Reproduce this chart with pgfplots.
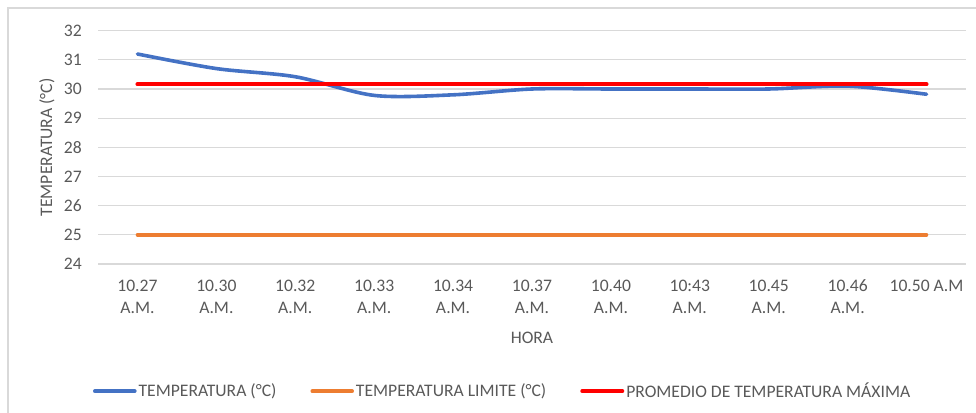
\documentclass[border=0pt]{standalone}
\usepackage{pgfplots}
\pgfplotsset{compat=1.18}
\usepackage{fontspec}
\setmainfont{Carlito}
\definecolor{tblue}{HTML}{4472C4}
\definecolor{torange}{HTML}{ED7D31}
\definecolor{tred}{HTML}{FF0000}
\definecolor{tgrid}{HTML}{D9D9D9}
\definecolor{ttext}{HTML}{595959}
\newcommand\cfont{\fontsize{13.2}{16.5}\selectfont}
\begin{document}
\cfont
\begin{tikzpicture}
\useasboundingbox (0,0) rectangle (732pt,309.75pt);
\draw[tgrid, line width=1pt] (6pt,-20pt) -- (6pt,303.75pt) -- (760pt,303.75pt);
\begin{axis}[
  at={(73.5pt,111.75pt)}, anchor=south west,
  scale only axis, width=651pt, height=175pt,
  xmin=-0.5, xmax=10.5, ymin=24, ymax=32,
  ytick={24,25,...,32},
  xtick={0,...,10},
  xticklabels={{10.27\\A.M.},{10.30\\A.M.},{10.32\\A.M.},{10.33\\A.M.},{10.34\\A.M.},{10.37\\A.M.},{10.40\\A.M.},{10:43\\A.M.},{10.45\\A.M.},{10.46\\A.M.},{10.50 A.M\\\mbox{}}},
  axis line style={draw=none},
  major tick length=0pt,
  ymajorgrids, grid style={tgrid, line width=0.9pt},
  tick label style={font=\cfont, text=ttext},
  /pgf/number format/assume math mode=true,
  yticklabel style={anchor=east, inner sep=0pt, xshift=-12pt},
  xticklabel style={anchor=base, align=center, inner sep=0pt, yshift=-37.5pt},
  xlabel={HORA}, ylabel={TEMPERATURA (°C)},
  label style={font=\cfont, text=ttext},
  xlabel style={at={(axis description cs:0.5,-0.317)}, anchor=center},
  ylabel style={at={(axis description cs:-0.0588,0.5)}, anchor=center, rotate=0},
  legend columns=3,
  legend style={at={(axis description cs:0.4654,-0.545)}, anchor=center, draw=none, fill=none,
    font=\cfont, text=ttext,
    nodes={inner sep=0.5pt},
    /tikz/every odd column/.append style={column sep=1pt},
    /tikz/every even column/.append style={column sep=25pt},
    inner sep=0pt},
  legend image code/.code={\draw[#1, line cap=round] (0pt,0pt) -- (30pt,0pt);},
  legend cell align=left,
]
\addplot[tblue, line width=2.7pt, line cap=round, smooth, tension=0.5] coordinates {
 (0,31.2) (1,30.7) (2,30.42) (3,29.78) (4,29.8) (5,30.0) (6,30.0) (7,30.0) (8,30.0) (9,30.1) (10,29.82)};
\addlegendentry{TEMPERATURA (°C)}
\addplot[torange, line width=2.6pt, line cap=round] coordinates {
 (0,25) (1,25) (2,25) (3,25) (4,25) (5,25) (6,25) (7,25) (8,25) (9,25) (10,25)};
\addlegendentry{TEMPERATURA LIMITE (°C)}
\addplot[tred, line width=3pt, line cap=round] coordinates {
 (0,30.16) (1,30.16) (2,30.16) (3,30.16) (4,30.16) (5,30.16) (6,30.16) (7,30.16) (8,30.16) (9,30.16) (10,30.16)};
\addlegendentry{PROMEDIO DE TEMPERATURA MÁXIMA}
\end{axis}
\end{tikzpicture}
\end{document}
